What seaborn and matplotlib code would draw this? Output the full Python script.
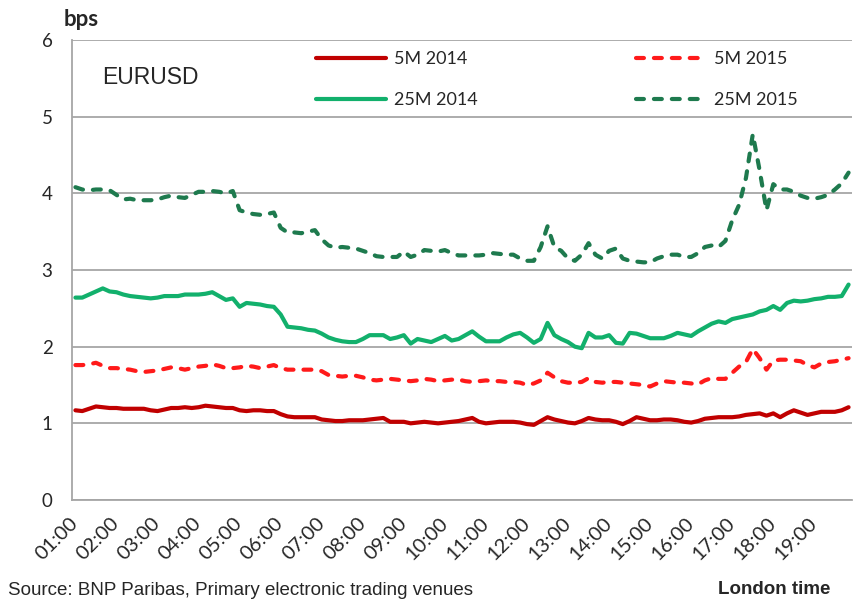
import numpy as np
import pandas as pd
import matplotlib
matplotlib.use("Agg")
import matplotlib.pyplot as plt
import seaborn as sns

# ── Data (10-minute buckets, 01:00 - 19:50 London time) ───────────────────────

hour_labels = ["01:00", "02:00", "03:00", "04:00", "05:00", "06:00", "07:00",
               "08:00", "09:00", "10:00", "11:00", "12:00", "13:00", "14:00",
               "15:00", "16:00", "17:00", "18:00", "19:00"]
buckets_per_hour = 6

spread_5m_2014 = [
    1.17, 1.16, 1.19, 1.22, 1.21, 1.20,
    1.20, 1.19, 1.19, 1.19, 1.19, 1.17,
    1.16, 1.18, 1.20, 1.20, 1.21, 1.20,
    1.21, 1.23, 1.22, 1.21, 1.20, 1.20,
    1.17, 1.16, 1.17, 1.17, 1.16, 1.16,
    1.12, 1.09, 1.08, 1.08, 1.08, 1.08,
    1.05, 1.04, 1.03, 1.03, 1.04, 1.04,
    1.04, 1.05, 1.06, 1.07, 1.02, 1.02,
    1.02, 1.00, 1.01, 1.02, 1.01, 1.00,
    1.01, 1.02, 1.03, 1.05, 1.07, 1.02,
    1.00, 1.01, 1.02, 1.02, 1.02, 1.01,
    0.99, 0.98, 1.03, 1.08, 1.05, 1.03,
    1.01, 1.00, 1.03, 1.07, 1.05, 1.04,
    1.04, 1.02, 0.99, 1.03, 1.08, 1.06,
    1.04, 1.04, 1.05, 1.05, 1.04, 1.02,
    1.01, 1.03, 1.06, 1.07, 1.08, 1.08,
    1.08, 1.09, 1.11, 1.12, 1.13, 1.10,
    1.13, 1.08, 1.13, 1.17, 1.14, 1.11,
    1.13, 1.15, 1.15, 1.15, 1.17, 1.21,
]

spread_5m_2015 = [
    1.76, 1.76, 1.77, 1.79, 1.75, 1.72,
    1.72, 1.71, 1.70, 1.68, 1.67, 1.68,
    1.69, 1.71, 1.73, 1.72, 1.70, 1.72,
    1.74, 1.75, 1.77, 1.75, 1.72, 1.72,
    1.73, 1.75, 1.74, 1.72, 1.74, 1.76,
    1.72, 1.70, 1.70, 1.70, 1.70, 1.70,
    1.68, 1.63, 1.62, 1.61, 1.62, 1.62,
    1.60, 1.57, 1.56, 1.57, 1.58, 1.57,
    1.56, 1.55, 1.56, 1.58, 1.57, 1.55,
    1.56, 1.57, 1.57, 1.55, 1.54, 1.55,
    1.56, 1.55, 1.55, 1.54, 1.54, 1.53,
    1.50, 1.52, 1.56, 1.66, 1.60, 1.55,
    1.53, 1.53, 1.54, 1.59, 1.54, 1.53,
    1.54, 1.54, 1.53, 1.52, 1.51, 1.50,
    1.48, 1.52, 1.55, 1.54, 1.53, 1.53,
    1.52, 1.51, 1.56, 1.59, 1.58, 1.58,
    1.66, 1.74, 1.80, 1.97, 1.85, 1.70,
    1.82, 1.83, 1.83, 1.82, 1.81, 1.76,
    1.73, 1.78, 1.80, 1.81, 1.83, 1.85,
]

spread_25m_2014 = [
    2.64, 2.64, 2.68, 2.72, 2.76, 2.72,
    2.71, 2.68, 2.66, 2.65, 2.64, 2.63,
    2.64, 2.66, 2.66, 2.66, 2.68, 2.68,
    2.68, 2.69, 2.71, 2.66, 2.61, 2.63,
    2.52, 2.57, 2.56, 2.55, 2.53, 2.52,
    2.42, 2.26, 2.25, 2.24, 2.22, 2.21,
    2.17, 2.12, 2.09, 2.07, 2.06, 2.06,
    2.10, 2.15, 2.15, 2.15, 2.10, 2.12,
    2.15, 2.04, 2.10, 2.08, 2.06, 2.10,
    2.14, 2.08, 2.10, 2.15, 2.20, 2.13,
    2.07, 2.07, 2.07, 2.12, 2.16, 2.18,
    2.12, 2.05, 2.10, 2.31, 2.15, 2.10,
    2.06, 2.00, 1.98, 2.18, 2.12, 2.12,
    2.15, 2.05, 2.04, 2.18, 2.17, 2.14,
    2.11, 2.11, 2.11, 2.14, 2.18, 2.16,
    2.14, 2.20, 2.25, 2.30, 2.33, 2.31,
    2.36, 2.38, 2.40, 2.42, 2.46, 2.48,
    2.53, 2.48, 2.57, 2.60, 2.59, 2.60,
    2.62, 2.63, 2.65, 2.65, 2.66, 2.81,
]

spread_25m_2015 = [
    4.08, 4.05, 4.04, 4.05, 4.05, 4.04,
    3.98, 3.92, 3.93, 3.91, 3.91, 3.91,
    3.92, 3.95, 3.97, 3.95, 3.94, 3.98,
    4.02, 4.02, 4.03, 4.02, 4.00, 4.03,
    3.78, 3.75, 3.73, 3.72, 3.73, 3.75,
    3.55, 3.49, 3.49, 3.48, 3.50, 3.52,
    3.40, 3.32, 3.29, 3.30, 3.29, 3.28,
    3.25, 3.22, 3.18, 3.17, 3.17, 3.17,
    3.24, 3.17, 3.20, 3.26, 3.25, 3.24,
    3.26, 3.22, 3.19, 3.19, 3.19, 3.19,
    3.20, 3.22, 3.21, 3.20, 3.20, 3.15,
    3.12, 3.12, 3.30, 3.57, 3.30, 3.25,
    3.15, 3.12, 3.20, 3.35, 3.20, 3.15,
    3.25, 3.28, 3.15, 3.12, 3.11, 3.10,
    3.10, 3.15, 3.18, 3.20, 3.20, 3.17,
    3.17, 3.22, 3.30, 3.32, 3.30, 3.38,
    3.65, 3.85, 4.20, 4.77, 4.30, 3.78,
    4.12, 4.05, 4.05, 4.02, 3.97, 3.94,
    3.93, 3.95, 3.98, 4.05, 4.13, 4.27,
]

series_names = ["5M 2014", "5M 2015", "25M 2014", "25M 2015"]
series_colors = {"5M 2014": "#C00000", "5M 2015": "#FF1A1A",
                 "25M 2014": "#12B06C", "25M 2015": "#1E7A4E"}
series_dashed = {"5M 2014": False, "5M 2015": True,
                 "25M 2014": False, "25M 2015": True}

GRID_GREY = "#A6A6A6"
CALIBRI_LIKE = ["Lato", "DejaVu Sans"]
ARIAL_LIKE = ["Liberation Sans", "DejaVu Sans"]


def build_frame() -> pd.DataFrame:
    values = {
        "5M 2014": spread_5m_2014,
        "5M 2015": spread_5m_2015,
        "25M 2014": spread_25m_2014,
        "25M 2015": spread_25m_2015,
    }
    frames = []
    for name in series_names:
        frames.append(pd.DataFrame({
            "bucket": np.arange(len(values[name])),
            "spread": values[name],
            "series": name,
        }))
    return pd.concat(frames, ignore_index=True)


def main():
    df = build_frame()
    n = df["bucket"].max() + 1

    sns.set_style("white")
    plt.rcParams["font.family"] = CALIBRI_LIKE

    fig = plt.figure(figsize=(8.56, 6.0), dpi=100)
    ax = fig.add_axes([72 / 856, 1 - 500 / 600, 780 / 856, 460 / 600])

    handles = {}
    for name in series_names:
        sub = df[df["series"] == name]
        sns.lineplot(data=sub, x="bucket", y="spread", ax=ax,
                     color=series_colors[name], linewidth=3.0,
                     label=name, legend=False)
        line = ax.lines[-1]
        if series_dashed[name]:
            line.set_dashes((1.9, 2.4))
            line.set_dash_capstyle("round")
        line.set_solid_capstyle("round")
        line.set_solid_joinstyle("round")
        handles[name] = line

    # akser
    ax.set_xlim(-0.5, n - 0.5)
    ax.set_ylim(0, 6)
    ax.set_yticks(range(0, 7))
    ax.yaxis.grid(True, color=GRID_GREY, linewidth=1.3)
    ax.set_axisbelow(True)
    for side in ["top", "right"]:
        ax.spines[side].set_visible(False)
    for side in ["left", "bottom"]:
        ax.spines[side].set_color(GRID_GREY)
        ax.spines[side].set_linewidth(1.3)

    ax.set_xticks(np.arange(-0.5, n, 1.0))
    ax.set_xticklabels([])
    label_pos = np.arange(0, n, buckets_per_hour)
    ax.set_xticks(label_pos, labels=hour_labels, minor=True)
    ax.tick_params(axis="x", which="major", length=5, width=1.1,
                   color=GRID_GREY, direction="out")
    ax.tick_params(axis="x", which="minor", length=0, pad=15, labelsize=14.5)
    for lbl in ax.get_xticklabels(minor=True):
        lbl.set_rotation(45)
        lbl.set_ha("right")
        lbl.set_va("center")
        lbl.set_rotation_mode("anchor")
    ax.tick_params(axis="y", length=5, width=1.3, color=GRID_GREY,
                   labelsize=13.5, pad=9)
    ax.set_xlabel("")
    ax.set_ylabel("")

    # legende (Excel-raekkefoelge)
    order = ["5M 2014", "25M 2014", "5M 2015", "25M 2015"]
    ax.legend([handles[k] for k in order], order, ncol=2, frameon=False,
              loc="upper left", bbox_to_anchor=(316 / 856, 1 - 51 / 600),
              bbox_transform=fig.transFigure, fontsize=13, handlelength=3.9,
              handletextpad=0.4, columnspacing=8.8, labelspacing=1.4,
              borderpad=0, borderaxespad=0)

    # tekster
    fig.text(102 / 856, 1 - 78 / 600, "EURUSD", fontsize=16.5,
             family=ARIAL_LIKE, va="center", ha="left")
    fig.text(64 / 856, 1 - 20 / 600, "bps", fontsize=16, weight="bold",
             va="center", ha="left")
    fig.text(830 / 856, 1 - 590 / 600, "London time", fontsize=13.5,
             weight="bold", family=ARIAL_LIKE, va="center", ha="right")
    fig.text(8 / 856, 1 - 599 / 600,
             "Source: BNP Paribas, Primary electronic trading venues",
             fontsize=13.5, family=ARIAL_LIKE, va="bottom", ha="left")

    fig.savefig("out.png", dpi=100)


if __name__ == "__main__":
    main()
